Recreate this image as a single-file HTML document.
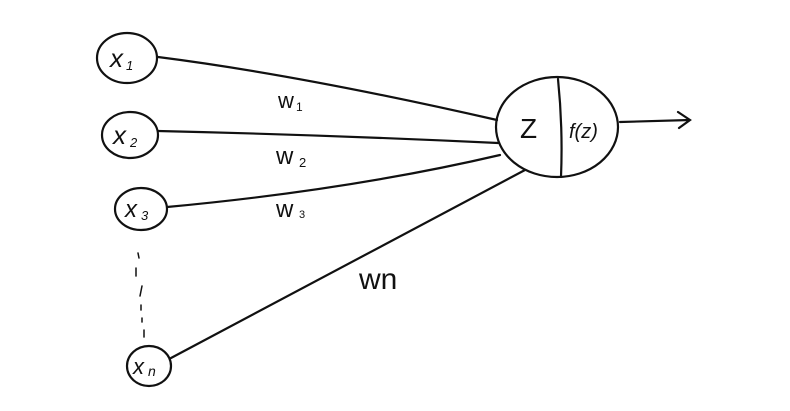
<!DOCTYPE html>
<html><head><style>html,body{margin:0;padding:0;background:#fff}svg{display:block}</style></head>
<body>
<svg width="790" height="411" viewBox="0 0 790 411" xmlns="http://www.w3.org/2000/svg">
<g fill="none" stroke="#111" stroke-width="2.2" stroke-linecap="round">
<ellipse cx="127" cy="58" rx="30" ry="25"/>
<ellipse cx="130" cy="135" rx="28" ry="23"/>
<ellipse cx="141" cy="209" rx="26" ry="21"/>
<ellipse cx="149" cy="366" rx="22" ry="20"/>
<ellipse cx="557" cy="127" rx="61" ry="50"/>
<path d="M558 79 Q563 128 561 177"/>
<path d="M158 57 Q300 75 497 120"/>
<path d="M158 131 Q330 135 498 143"/>
<path d="M167 207 Q350 190 500 155"/>
<path d="M171 358 L525 170"/>
<path d="M620 122 L690 120 M678 112 L690 120 L679 128"/>
<path d="M138 253 L139 258 M136 268 L136 276 M142 286 L140 296 M141 305 L141 310 M142 318 L142 322 M144 330 L144 337" stroke-width="1.5"/>
</g>
<g font-family="Liberation Sans, sans-serif" fill="#111" font-style="italic">
<text x="110" y="67" font-size="26">x</text><text x="126" y="70" font-size="13">1</text>
<text x="113" y="144" font-size="26">x</text><text x="130" y="147" font-size="13">2</text>
<text x="125" y="217" font-size="24">x</text><text x="141" y="220" font-size="13">3</text>
<text x="133" y="374" font-size="22">x</text><text x="148" y="376" font-size="14">n</text>
</g>
<g font-family="Liberation Sans, sans-serif" fill="#111">
<text x="520" y="138" font-size="28">Z</text>
<text x="569" y="138" font-size="20" font-style="italic">f(z)</text>
<text x="278" y="108" font-size="22">w</text><text x="296" y="111" font-size="12">1</text>
<text x="276" y="164" font-size="24">w</text><text x="299" y="167" font-size="13">2</text>
<text x="276" y="217" font-size="24">w</text><text x="299" y="218" font-size="11">3</text>
<text x="359" y="289" font-size="30">wn</text>
</g>
</svg>
</body></html>
